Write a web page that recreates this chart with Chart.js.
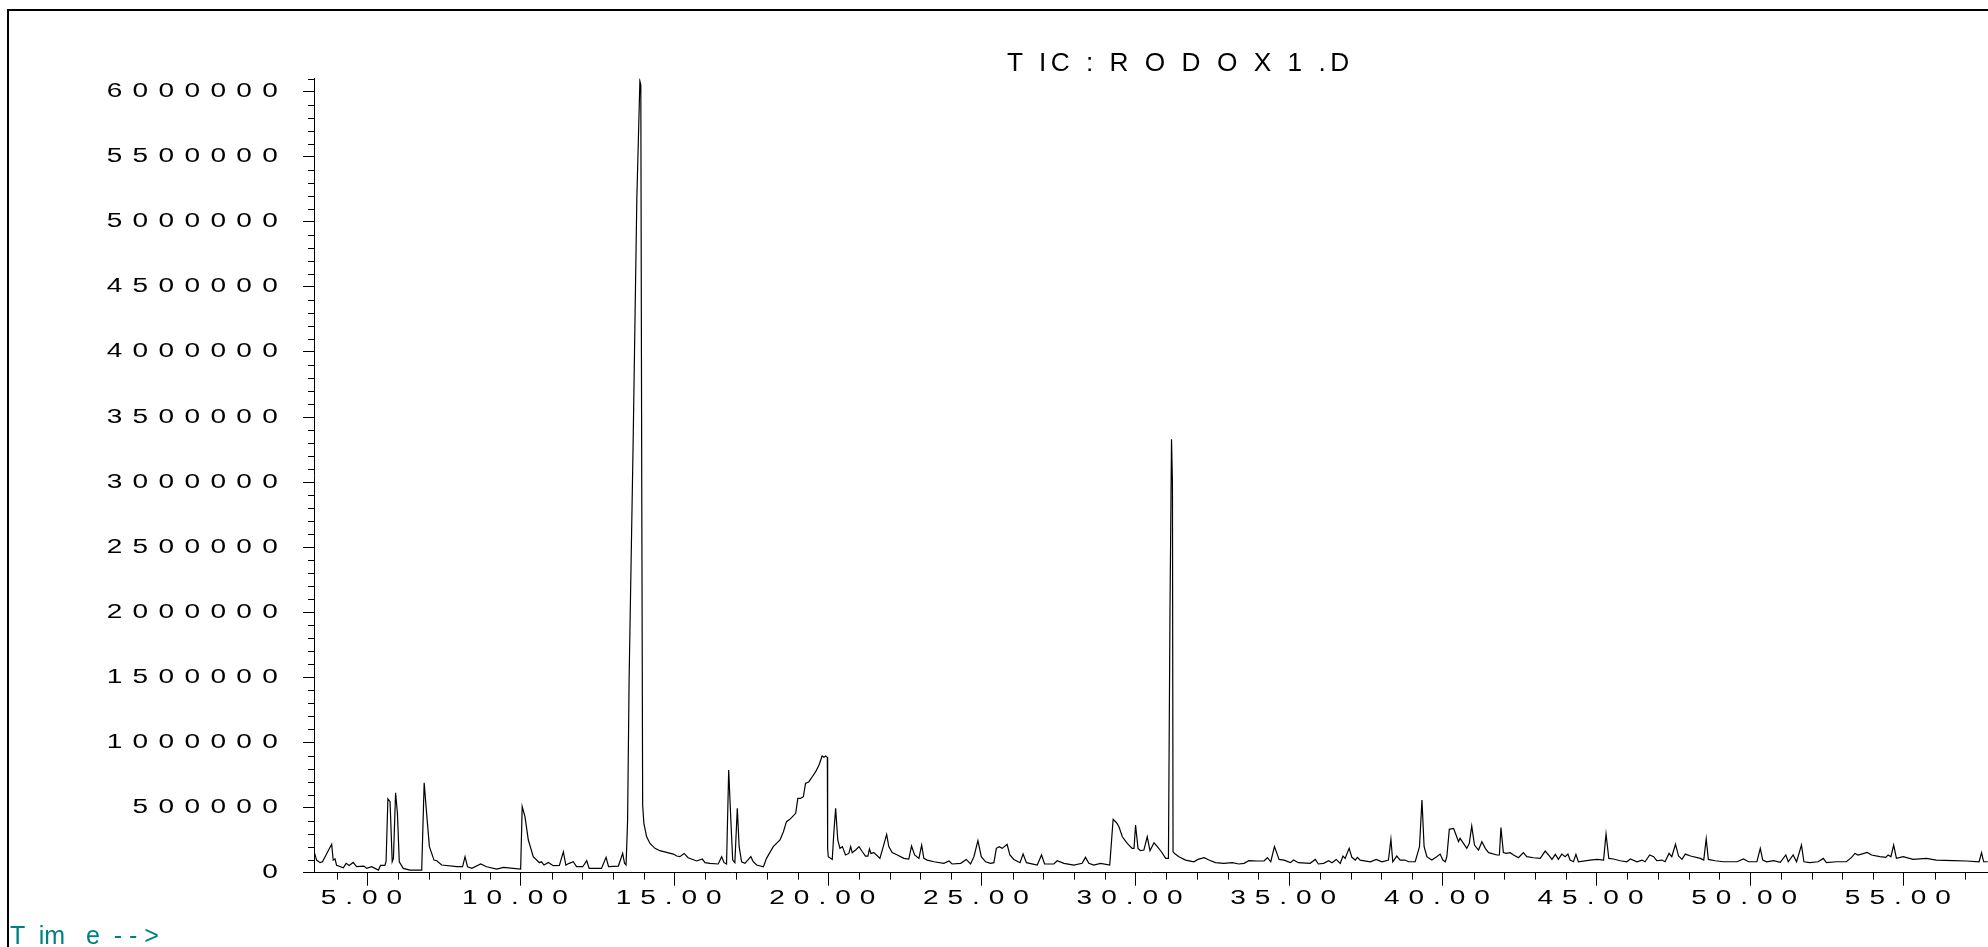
<!DOCTYPE html>
<html>
<head>
<meta charset="utf-8">
<title>TIC: RODOX1.D</title>
<script src="https://cdn.jsdelivr.net/npm/chart.js@4.4.1/dist/chart.umd.min.js"></script>
<style>
  html, body { margin: 0; padding: 0; background: #fff; }
  #wrap { position: relative; width: 1988px; height: 947px; overflow: hidden; background: #fff; }
  #frame { position: absolute; left: 7px; top: 9px; width: 3000px; height: 2000px; border-left: 2px solid #000; border-top: 2px solid #000; }
  #title { position: absolute; left: 1007px; top: 50px; font: 25px/1 "Liberation Sans", Arial, sans-serif; letter-spacing: 4.3px; white-space: pre; color: #000; transform: scaleX(1.05); transform-origin: 0 0; }
  #timeLabel { position: absolute; left: 10px; top: 923px; font: 25px/1 "Liberation Sans", Arial, sans-serif; white-space: pre; color: #008080; }
  canvas { position: absolute; left: 0; top: 0; }
</style>
</head>
<body>
<div id="wrap">
  <div id="frame"></div>
  <canvas id="tic" width="1988" height="947"></canvas>
  <div id="title">T IC : R O D O X 1 .D</div>
  <div id="timeLabel">T  im   e  - - &gt;</div>
</div>
<script>
// retention time (min) and total ion current
const retentionTime = [
  3.27, 3.35, 3.46, 3.54, 3.84, 3.89, 3.95, 4.00, 4.22, 4.31, 4.41, 4.54, 4.65, 4.89, 4.98,
  5.14, 5.36, 5.43, 5.57, 5.61, 5.67, 5.74, 5.81, 5.85, 5.92, 5.98, 6.04, 6.17, 6.39, 6.77,
  6.85, 6.93, 7.02, 7.17, 7.26, 7.42, 7.91, 8.10, 8.18, 8.26, 8.40, 8.69, 8.88, 9.21, 9.43,
  9.99, 10.04, 10.13, 10.24, 10.40, 10.60, 10.67, 10.75, 10.89, 11.05, 11.25, 11.38, 11.46, 11.57, 11.70,
  11.81, 12.01, 12.14, 12.22, 12.62, 12.77, 12.85, 13.17, 13.31, 13.37, 13.42,
  13.47, 13.52, 13.65, 13.77, 13.87, 13.90, 13.93, 13.96, 14.00, 14.09, 14.20, 14.36, 14.52, 14.74, 14.96,
  15.07, 15.17, 15.31, 15.44, 15.72, 15.90, 15.99, 16.15, 16.42, 16.53, 16.61, 16.69, 16.76, 16.82, 16.89,
  16.96, 17.04, 17.10, 17.18, 17.29, 17.48, 17.56, 17.67, 17.89, 17.99, 18.21, 18.43, 18.54, 18.64, 18.75,
  18.94, 19.01, 19.10, 19.19, 19.26, 19.37, 19.48, 19.59, 19.70, 19.80, 19.86, 19.91, 19.97, 19.98, 20.00,
  20.13, 20.18, 20.24, 20.31, 20.38, 20.46, 20.56, 20.67, 20.73, 20.78, 20.89, 21.00, 21.11, 21.21, 21.29,
  21.34, 21.39, 21.48, 21.57, 21.68, 21.79, 21.90, 21.97, 22.08, 22.25, 22.46, 22.62, 22.71, 22.81, 22.95,
  23.04, 23.11, 23.22, 23.44, 23.76, 23.93, 24.03, 24.31, 24.49, 24.63, 24.74, 24.87, 24.98, 25.12, 25.28,
  25.39, 25.47, 25.56, 25.66, 25.82, 25.91, 26.04, 26.24, 26.34, 26.45, 26.80, 26.94, 27.04, 27.34, 27.45,
  27.67, 27.99, 28.26, 28.37, 28.48, 28.64, 28.86, 29.16, 29.27, 29.38, 29.46, 29.57, 29.73, 29.89, 29.95,
  30.00, 30.08, 30.16, 30.27, 30.38, 30.47, 30.60, 30.71, 30.84, 30.98, 31.05,
  31.07, 31.12, 31.17, 31.20, 31.22, 31.27, 31.41, 31.63, 31.90, 32.03, 32.23, 32.39, 32.60,
  32.87, 33.15, 33.36, 33.53, 33.69, 33.96, 34.18, 34.29, 34.40, 34.52, 34.67, 34.83, 35.04, 35.14, 35.30,
  35.68, 35.85, 35.95, 36.12, 36.28, 36.39, 36.53, 36.66, 36.75, 36.82, 36.95, 37.04, 37.15, 37.22, 37.31,
  37.64, 37.83, 38.02, 38.23, 38.31, 38.37, 38.50, 38.61, 38.77, 38.88, 39.10, 39.24, 39.32, 39.39, 39.48,
  39.64, 39.80, 39.91, 40.00, 40.08, 40.13, 40.21, 40.35, 40.43, 40.51, 40.56, 40.67, 40.78, 40.86, 40.94,
  41.03, 41.16, 41.27, 41.38, 41.49, 41.76, 41.84, 41.89, 41.97, 42.06, 42.19, 42.30, 42.46, 42.62, 42.73,
  42.95, 43.17, 43.33, 43.44, 43.55, 43.66, 43.76, 43.87, 43.98, 44.07, 44.14, 44.25, 44.33, 44.41, 44.79,
  45.01, 45.23, 45.31, 45.40, 45.55, 45.77, 45.99, 46.10, 46.32, 46.48, 46.58, 46.73, 46.86, 46.96, 47.13,
  47.23, 47.36, 47.45, 47.57, 47.67, 47.78, 47.89, 48.06, 48.38, 48.49, 48.57, 48.64, 48.86, 49.13, 49.57,
  49.78, 49.95, 50.22, 50.33, 50.41, 50.54, 50.76, 50.98, 51.16, 51.24, 51.40, 51.51, 51.67, 51.75, 51.94,
  52.21, 52.38, 52.48, 52.81, 53.13, 53.30, 53.41, 53.51, 53.62, 53.81, 53.95, 54.22, 54.41, 54.49, 54.58,
  54.67, 54.76, 54.98, 55.30, 55.74, 56.06, 56.61, 57.04, 57.45, 57.53, 57.60, 57.73
];

const abundance = [
  161000, 97000, 77000, 84000, 218000, 97000, 105000, 56000, 38000, 72000, 56000, 79000, 46000, 51000, 33000,
  46000, 20000, 56000, 56000, 84000, 566000, 545000, 84000, 110000, 614000, 456000, 84000, 33000, 20000, 20000,
  691000, 456000, 200000, 97000, 92000, 59000, 46000, 46000, 123000, 46000, 33000, 67000, 46000, 28000, 41000,
  28000, 507000, 430000, 251000, 123000, 77000, 84000, 59000, 79000, 54000, 56000, 161000, 59000, 72000, 84000,
  46000, 46000, 92000, 33000, 33000, 118000, 46000, 51000, 148000, 72000, 59000,
  400000, 1500000, 3300000, 5170000, 6080000, 6050000, 3000000, 520000, 379000, 276000, 225000, 187000, 169000, 156000, 143000,
  128000, 123000, 148000, 115000, 90000, 105000, 77000, 72000, 67000, 123000, 77000, 67000, 788000, 456000, 97000,
  77000, 494000, 200000, 84000, 72000, 123000, 84000, 59000, 46000, 110000, 200000, 251000, 315000, 392000, 410000,
  456000, 571000, 571000, 584000, 686000, 699000, 737000, 776000, 827000, 896000, 886000, 896000, 886000, 187000, 123000,
  102000, 302000, 494000, 251000, 187000, 200000, 136000, 148000, 200000, 154000, 174000, 200000, 161000, 128000, 128000,
  182000, 148000, 154000, 136000, 110000, 200000, 294000, 200000, 154000, 136000, 110000, 105000, 205000, 136000, 110000,
  212000, 110000, 97000, 84000, 72000, 90000, 67000, 72000, 102000, 67000, 123000, 246000, 123000, 84000, 72000,
  77000, 187000, 200000, 187000, 218000, 136000, 102000, 77000, 143000, 77000, 59000, 136000, 67000, 67000, 92000,
  72000, 59000, 72000, 118000, 72000, 59000, 72000, 59000, 410000, 384000, 353000, 276000, 225000, 187000, 187000,
  366000, 187000, 169000, 174000, 276000, 169000, 230000, 200000, 161000, 110000, 110000,
  110000, 2000000, 3330000, 3000000, 160000, 148000, 123000, 97000, 84000, 102000, 115000, 97000, 77000,
  72000, 77000, 67000, 72000, 92000, 90000, 90000, 115000, 84000, 200000, 102000, 97000, 77000, 97000, 77000,
  72000, 102000, 67000, 72000, 92000, 77000, 102000, 72000, 128000, 110000, 187000, 118000, 97000, 118000, 97000,
  84000, 102000, 84000, 97000, 256000, 84000, 128000, 97000, 97000, 84000, 84000, 200000, 558000, 200000, 123000,
  97000, 123000, 143000, 97000, 84000, 123000, 333000, 340000, 289000, 238000, 264000, 225000, 187000, 225000, 358000,
  212000, 174000, 238000, 187000, 154000, 136000, 136000, 346000, 154000, 148000, 154000, 136000, 115000, 154000, 123000,
  115000, 110000, 166000, 136000, 102000, 141000, 102000, 143000, 123000, 143000, 97000, 84000, 141000, 84000, 97000,
  102000, 97000, 297000, 110000, 105000, 92000, 84000, 105000, 84000, 97000, 84000, 136000, 123000, 92000, 97000,
  84000, 148000, 123000, 218000, 128000, 102000, 143000, 128000, 110000, 97000, 261000, 102000, 92000, 84000, 84000,
  105000, 84000, 84000, 187000, 97000, 84000, 92000, 79000, 136000, 84000, 136000, 84000, 212000, 84000, 77000,
  84000, 110000, 77000, 84000, 84000, 118000, 148000, 136000, 143000, 156000, 136000, 123000, 118000, 136000, 123000,
  212000, 110000, 123000, 102000, 110000, 97000, 92000, 90000, 84000, 154000, 84000, 84000
];

const xMajorTicks = [5, 10, 15, 20, 25, 30, 35, 40, 45, 50, 55];
const yMajorTicks = [0, 500000, 1000000, 1500000, 2000000, 2500000, 3000000,
  3500000, 4000000, 4500000, 5000000, 5500000, 6000000];
const xMinorTicks = [4, 6, 7, 8, 9, 11, 12, 13, 14, 16, 17, 18, 19, 21, 22, 23, 24, 26, 27, 28, 29,
  31, 32, 33, 34, 36, 37, 38, 39, 41, 42, 43, 44, 46, 47, 48, 49, 51, 52, 53, 54, 56, 57];
const yMinorTicks = [];
for (let v = 100000; v <= 6100000; v += 100000) {
  if (v % 500000 !== 0) yMinorTicks.push(v);
}

const formatX = v => v.toFixed(2);
const formatY = v => String(v);

const minorTicks = {
  id: 'minorTicks',
  afterDraw(chart) {
    const { ctx, scales: { x, y } } = chart;
    ctx.save();
    ctx.strokeStyle = '#000';
    ctx.lineWidth = 1;
    ctx.beginPath();
    yMinorTicks.forEach(v => {
      const py = Math.round(y.getPixelForValue(v)) + 0.5;
      ctx.moveTo(y.right - 6, py);
      ctx.lineTo(y.right, py);
    });
    xMinorTicks.forEach(t => {
      const px = Math.round(x.getPixelForValue(t)) + 0.5;
      ctx.moveTo(px, x.top);
      ctx.lineTo(px, x.top + 7);
    });
    ctx.stroke();
    ctx.restore();
  }
};

// tick labels in the wide, spaced plotter lettering
const wideLabels = {
  id: 'wideLabels',
  afterDraw(chart) {
    const { ctx, scales: { x, y } } = chart;
    const stretch = 1.4;
    ctx.save();
    ctx.font = '20px "Liberation Sans", Arial, sans-serif';
    ctx.fillStyle = '#000';
    ctx.textBaseline = 'middle';

    ctx.letterSpacing = '7.4px';
    ctx.textAlign = 'right';
    y.ticks.forEach(tk => {
      ctx.setTransform(stretch, 0, 0, 1, y.right - 25.8, y.getPixelForValue(tk.value));
      ctx.fillText(formatY(tk.value), 0, 0);
    });

    ctx.letterSpacing = '6.4px';
    ctx.textAlign = 'center';
    x.ticks.forEach(tk => {
      ctx.setTransform(stretch, 0, 0, 1, x.getPixelForValue(tk.value) - 1.5, x.top + 25.3);
      ctx.fillText(formatX(tk.value), 0, 0);
    });
    ctx.restore();
  }
};

new Chart(document.getElementById('tic'), {
  type: 'line',
  data: {
    datasets: [{
      data: retentionTime.map((t, i) => ({ x: t, y: abundance[i] })),
      borderColor: '#000',
      borderWidth: 1.2,
      pointRadius: 0,
      tension: 0,
      fill: false
    }]
  },
  options: {
    responsive: false,
    animation: false,
    devicePixelRatio: 1,
    layout: { padding: { top: 78.5, right: 0, bottom: 0, left: 0 } },
    plugins: { legend: { display: false }, tooltip: { enabled: false } },
    scales: {
      x: {
        type: 'linear',
        min: 3.265,
        max: 57.74,
        afterBuildTicks: s => { s.ticks = xMajorTicks.map(v => ({ value: v })); },
        afterFit: s => { s.height = 74.3; },
        grid: { drawOnChartArea: false, drawTicks: true, tickLength: 13, tickColor: '#000', tickWidth: 1 },
        border: { display: true, color: '#000', width: 1 },
        ticks: { display: false, autoSkip: false, maxRotation: 0 }
      },
      y: {
        min: 0,
        max: 6100000,
        afterBuildTicks: s => { s.ticks = yMajorTicks.map(v => ({ value: v })); },
        afterFit: s => { s.width = 314; },
        grid: { drawOnChartArea: false, drawTicks: true, tickLength: 11, tickColor: '#000', tickWidth: 1 },
        border: { display: true, color: '#000', width: 1 },
        ticks: { display: false, autoSkip: false }
      }
    }
  },
  plugins: [minorTicks, wideLabels]
});
</script>
</body>
</html>
